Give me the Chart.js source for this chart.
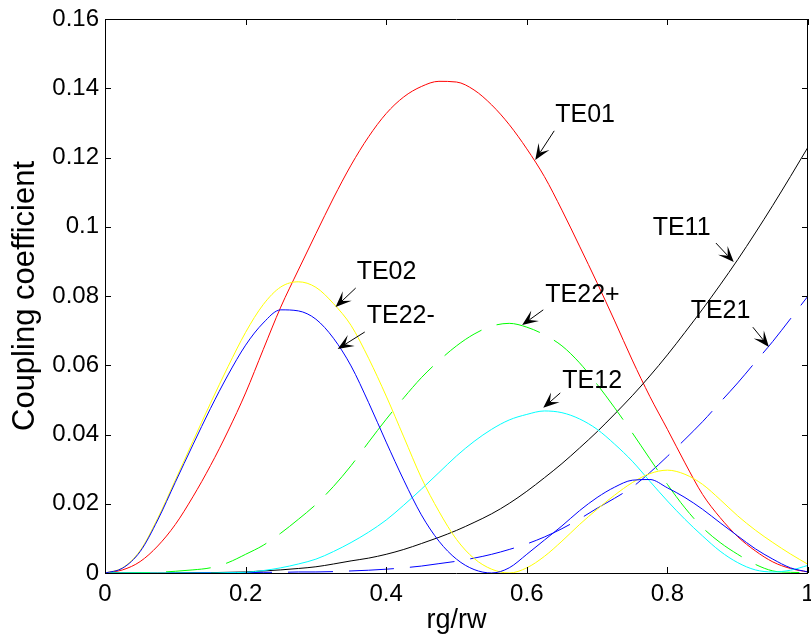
<!DOCTYPE html>
<html lang="en">
<head>
<meta charset="UTF-8">
<title>Coupling coefficient</title>
<script src="https://cdn.jsdelivr.net/npm/chart.js"></script>
<style>
  html, body { margin: 0; padding: 0; background: #ffffff; }
</style>
</head>
<body>
<canvas id="myChart" width="811" height="641"></canvas>
<script>
// x positions (rg/rw)
const rgRw = [0, 0.025, 0.05, 0.075, 0.1, 0.125, 0.15, 0.175, 0.2, 0.225,
              0.25, 0.275, 0.3, 0.325, 0.35, 0.375, 0.4, 0.425, 0.45, 0.475,
              0.5, 0.525, 0.55, 0.575, 0.6, 0.625, 0.65, 0.675, 0.7, 0.725,
              0.75, 0.775, 0.8, 0.825, 0.85, 0.875, 0.9, 0.925, 0.95, 0.975, 1];

// coupling coefficients
const te01 = [0, 0.0009, 0.0033, 0.0078, 0.0140, 0.0220, 0.0310, 0.0410, 0.0520, 0.0645,
              0.0768, 0.0875, 0.0980, 0.1083, 0.1178, 0.1260, 0.1327, 0.1375, 0.1405, 0.1420,
              0.1418, 0.1395, 0.1352, 0.1295, 0.1225, 0.1145, 0.1048, 0.0944, 0.0838, 0.0728,
              0.0615, 0.0510, 0.0415, 0.0318, 0.0227, 0.0160, 0.0105, 0.0064, 0.0032, 0.0013, 0.0003];
const te11 = [0, 0, 0, 0, 0, 0.0001, 0.0001, 0.0002, 0.0003, 0.0006,
              0.0009, 0.0013, 0.0018, 0.0026, 0.0035, 0.0043, 0.0054, 0.0068, 0.0085, 0.0103,
              0.0123, 0.0146, 0.0171, 0.0201, 0.0236, 0.0275, 0.0316, 0.0361, 0.0408, 0.0459,
              0.0512, 0.0569, 0.0630, 0.0695, 0.0762, 0.0832, 0.0905, 0.0982, 0.1062, 0.1145, 0.1230];
const te02 = [0, 0.0015, 0.0065, 0.0158, 0.0268, 0.0380, 0.0490, 0.0596, 0.0695, 0.0775,
              0.0826, 0.0841, 0.0825, 0.0778, 0.0715, 0.0620, 0.0511, 0.0393, 0.0275, 0.0178,
              0.0097, 0.0042, 0.0011, 0.0000, 0.0015, 0.0048, 0.0092, 0.0140, 0.0184, 0.0225,
              0.0261, 0.0287, 0.0297, 0.0285, 0.0256, 0.0212, 0.0165, 0.0124, 0.0088, 0.0055, 0.0025];
const te22m = [0, 0.0014, 0.0062, 0.0153, 0.0262, 0.0370, 0.0475, 0.0572, 0.0658, 0.0722,
               0.0760, 0.0757, 0.0733, 0.0678, 0.0598, 0.0492, 0.0378, 0.0268, 0.0168, 0.0092,
               0.0040, 0.0010, 0.0000, 0.0015, 0.0054, 0.0095, 0.0136, 0.0180, 0.0218, 0.0248,
               0.0268, 0.0270, 0.0246, 0.0218, 0.0184, 0.0145, 0.0107, 0.0070, 0.0040, 0.0015, 0.0003];
const te22p = [0, 0, 0.0001, 0.0002, 0.0005, 0.0009, 0.0015, 0.0030, 0.0054, 0.0080,
               0.0115, 0.0155, 0.0198, 0.0250, 0.0310, 0.0378, 0.0444, 0.0506, 0.0564, 0.0613,
               0.0656, 0.0690, 0.0713, 0.0721, 0.0710, 0.0688, 0.0656, 0.0607, 0.0545, 0.0477,
               0.0405, 0.0330, 0.0256, 0.0188, 0.0131, 0.0088, 0.0054, 0.0025, 0.0006, 0.0002, 0.0001];
const te12 = [0, 0, 0, 0, 0, 0, 0, 0.0001, 0.0002, 0.0007,
              0.0015, 0.0026, 0.0040, 0.0062, 0.0088, 0.0118, 0.0153, 0.0196, 0.0242, 0.0290,
              0.0338, 0.0380, 0.0415, 0.0442, 0.0458, 0.0468, 0.0463, 0.0445, 0.0415, 0.0372,
              0.0323, 0.0265, 0.0208, 0.0155, 0.0107, 0.0063, 0.0030, 0.0009, 0.0003, 0.0008, 0.0022];
const te21 = [0, 0, 0, 0, 0, 0, 0.0001, 0.0001, 0.0001, 0.0002,
              0.0002, 0.0003, 0.0003, 0.0004, 0.0006, 0.0008, 0.0011, 0.0015, 0.0020, 0.0027,
              0.0034, 0.0043, 0.0054, 0.0068, 0.0084, 0.0104, 0.0128, 0.0156, 0.0187, 0.0216,
              0.0248, 0.0290, 0.0337, 0.0386, 0.0437, 0.0493, 0.0549, 0.0609, 0.0669, 0.0734, 0.0800];

const xTicks = [0, 0.2, 0.4, 0.6, 0.8, 1];
const yTicks = [0, 0.02, 0.04, 0.06, 0.08, 0.1, 0.12, 0.14, 0.16];

// text labels and arrows, in data units
const labelNames = ['TE01', 'TE11', 'TE02', 'TE22-', 'TE22+', 'TE12', 'TE21'];
const labelX = [0.6405, 0.779, 0.358, 0.3723, 0.6263, 0.6505, 0.8331];
const labelY = [0.1323, 0.0996, 0.0868, 0.0741, 0.0804, 0.0555, 0.0755];
const arrowFrom = [[0.639, 0.1277], [0.869, 0.0953], [0.3566, 0.0823], [0.3695, 0.0696],
                   [0.6234, 0.0760], [0.6476, 0.0520], [0.9215, 0.0710]];
const arrowTo = [[0.612, 0.1193], [0.8944, 0.0898], [0.328, 0.0768], [0.331, 0.0647],
                 [0.5934, 0.0716], [0.6234, 0.0477], [0.9444, 0.0653]];

const FONT = 'Liberation Sans, Arial, Helvetica, sans-serif';

function pts(ys) {
    return rgRw.map((x, i) => ({ x: x, y: ys[i] }));
}

function line(label, ys, color, dashed) {
    return {
        label: label,
        data: pts(ys),
        borderColor: color,
        borderWidth: 1,
        borderDash: dashed ? [45, 16] : [],
        pointRadius: 0,
        fill: false,
        cubicInterpolationMode: 'monotone'
    };
}

// MATLAB style box with inward ticks, plus the text/arrow annotations
const boxPlugin = {
    id: 'matlabBox',
    afterDatasetsDraw(chart) {
        const ctx = chart.ctx;
        const a = chart.chartArea;
        const sx = chart.scales.x, sy = chart.scales.y;
        ctx.save();
        ctx.strokeStyle = '#000';
        ctx.lineWidth = 1;
        ctx.beginPath();
        ctx.rect(a.left + 0.5, a.top + 0.5, a.right - a.left - 1, a.bottom - a.top);
        ctx.stroke();

        const tl = 6;
        ctx.beginPath();
        xTicks.forEach(v => {
            const px = Math.round(sx.getPixelForValue(v)) + 0.5;
            ctx.moveTo(px, a.bottom); ctx.lineTo(px, a.bottom - tl);
            ctx.moveTo(px, a.top); ctx.lineTo(px, a.top + tl);
        });
        yTicks.forEach(v => {
            const py = Math.round(sy.getPixelForValue(v)) + 0.5;
            ctx.moveTo(a.left, py); ctx.lineTo(a.left + tl, py);
            ctx.moveTo(a.right, py); ctx.lineTo(a.right - tl, py);
        });
        ctx.stroke();

        // annotations
        ctx.fillStyle = '#000';
        ctx.font = '25px ' + FONT;
        ctx.textAlign = 'left';
        ctx.textBaseline = 'middle';
        labelNames.forEach((name, i) => {
            ctx.fillText(name, sx.getPixelForValue(labelX[i]), sy.getPixelForValue(labelY[i]));
            const x0 = sx.getPixelForValue(arrowFrom[i][0]), y0 = sy.getPixelForValue(arrowFrom[i][1]);
            const x1 = sx.getPixelForValue(arrowTo[i][0]), y1 = sy.getPixelForValue(arrowTo[i][1]);
            const len = Math.hypot(x1 - x0, y1 - y0);
            const ux = (x1 - x0) / len, uy = (y1 - y0) / len;
            const nx = -uy, ny = ux;
            const L = 16, W = 13, notch = 0.55;
            ctx.beginPath();
            ctx.moveTo(x0, y0);
            ctx.lineTo(x1 - ux * L * notch, y1 - uy * L * notch);
            ctx.stroke();
            ctx.beginPath();
            ctx.moveTo(x1, y1);
            ctx.lineTo(x1 - ux * L + nx * W / 2, y1 - uy * L + ny * W / 2);
            ctx.lineTo(x1 - ux * L * notch, y1 - uy * L * notch);
            ctx.lineTo(x1 - ux * L - nx * W / 2, y1 - uy * L - ny * W / 2);
            ctx.closePath();
            ctx.fill();
        });
        ctx.restore();
    }
};

const config = {
    type: 'line',
    data: {
        datasets: [
            line('TE22-', te22m, '#0000ff', false),
            line('TE02', te02, '#ffff00', false),
            line('TE12', te12, '#00ffff', false),
            line('TE22+', te22p, '#00ff00', true),
            line('TE21', te21, '#0000ff', true),
            line('TE11', te11, '#000000', false),
            line('TE01', te01, '#ff0000', false)
        ]
    },
    options: {
        responsive: false,
        animation: false,
        devicePixelRatio: 1,
        layout: { padding: { top: 19, right: 3, left: 0, bottom: 0 } },
        plugins: {
            legend: { display: false },
            tooltip: { enabled: false }
        },
        scales: {
            x: {
                type: 'linear',
                min: 0,
                max: 1,
                afterBuildTicks: s => { s.ticks = xTicks.map(v => ({ value: v })); },
                afterFit: s => { s.height = 68; s.paddingLeft = 0; s.paddingRight = 0; },
                grid: { display: false, drawTicks: false },
                border: { display: false },
                ticks: {
                    color: '#000',
                    padding: 7,
                    maxRotation: 0,
                    autoSkip: false,
                    font: { family: FONT, size: 24 },
                    callback: v => String(Number(v.toFixed(2)))
                },
                title: {
                    display: true,
                    text: 'rg/rw',
                    color: '#000',
                    font: { family: FONT, size: 27 },
                    padding: { top: 0, bottom: 4 }
                }
            },
            y: {
                type: 'linear',
                min: 0,
                max: 0.16,
                afterBuildTicks: s => { s.ticks = yTicks.map(v => ({ value: v })); },
                afterFit: s => { s.width = 105; s.paddingTop = 0; s.paddingBottom = 0; },
                grid: { display: false, drawTicks: false },
                border: { display: false },
                ticks: {
                    color: '#000',
                    padding: 6,
                    autoSkip: false,
                    font: { family: FONT, size: 24 },
                    callback: v => String(Number(v.toFixed(2)))
                },
                title: {
                    display: true,
                    text: 'Coupling coefficient',
                    color: '#000',
                    font: { family: FONT, size: 31 },
                    padding: { top: 7, bottom: 0 }
                }
            }
        }
    },
    plugins: [boxPlugin]
};

var myChart = new Chart(document.getElementById('myChart'), config);
</script>
</body>
</html>
